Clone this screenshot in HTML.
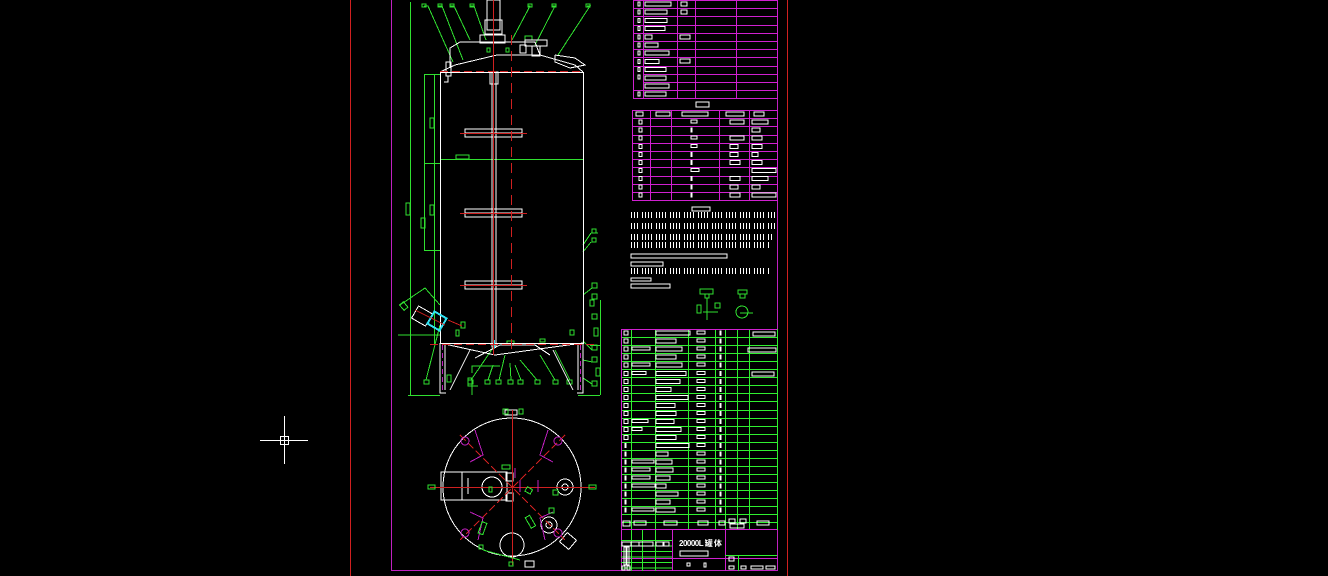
<!DOCTYPE html>
<html><head><meta charset="utf-8"><style>
html,body{margin:0;padding:0;background:#000;width:1328px;height:576px;overflow:hidden}
svg{display:block}
</style></head><body>
<svg id="s" width="1328" height="576" viewBox="0 0 1328 576" xmlns="http://www.w3.org/2000/svg" fill="none" stroke-width="1" shape-rendering="crispEdges">
<!-- frame -->
<line x1="350.5" y1="0" x2="350.5" y2="576" stroke="#d02020"/>
<line x1="787.5" y1="0" x2="787.5" y2="576" stroke="#d02020"/>
<line x1="391.5" y1="0" x2="391.5" y2="571" stroke="#c020c0"/>
<line x1="777.5" y1="0" x2="777.5" y2="571" stroke="#c020c0"/>
<line x1="391" y1="570.5" x2="778" y2="570.5" stroke="#c020c0"/>
<!-- crosshair -->
<g stroke="#fff"><line x1="260" y1="440.5" x2="308" y2="440.5"/><line x1="284.5" y1="416" x2="284.5" y2="464"/><rect x="280.5" y="436.5" width="8" height="8"/></g>

<!-- dimension lines left -->
<g stroke="#30e030">
<line x1="410.5" y1="2" x2="410.5" y2="395"/>
<line x1="408" y1="395.5" x2="440" y2="395.5"/>
<line x1="424.5" y1="74" x2="424.5" y2="250"/>
<line x1="434.5" y1="74" x2="434.5" y2="345"/>
<line x1="424" y1="74.5" x2="440" y2="74.5"/>
<line x1="424" y1="163.5" x2="440" y2="163.5"/>
<line x1="424" y1="250.5" x2="440" y2="250.5"/>
<rect x="406" y="203" width="4" height="12"/><rect x="430" y="118" width="4" height="10"/><rect x="430" y="205" width="4" height="10"/><rect x="421" y="218" width="4" height="10"/>
<line x1="590" y1="345.5" x2="600" y2="345.5"/><line x1="600.5" y1="300" x2="600.5" y2="395"/>
<line x1="578" y1="395.5" x2="600" y2="395.5"/>
<rect x="456" y="155" width="13" height="4"/>
<line x1="440" y1="159.5" x2="583" y2="159.5"/>
<polyline points="424,6 428,6 453,62"/><rect x="422" y="4" width="4" height="3"/>
<polyline points="438,6 442,6 463,60"/><rect x="438" y="4" width="4" height="3"/>
<polyline points="450,6 454,6 470,40"/><rect x="450" y="4" width="4" height="3"/>
<polyline points="470,6 474,6 486,40"/><rect x="470" y="4" width="4" height="3"/>
<polyline points="528,6 530,6 512,40"/><rect x="528" y="4" width="4" height="3"/>
<polyline points="552,6 555,6 535,45"/><rect x="552" y="4" width="4" height="3"/>
<polyline points="587,6 590,6 558,55"/><rect x="586" y="4" width="4" height="3"/>
<rect x="525" y="36" width="7" height="4"/><rect x="487" y="48" width="3" height="4"/><rect x="506" y="48" width="3" height="4"/>
<polyline points="591,233 598,233"/><rect x="592" y="229" width="4" height="4"/><line x1="591" y1="233" x2="583" y2="245"/>
<rect x="592" y="238" width="4" height="4"/><line x1="591" y1="242" x2="583" y2="252"/>
<rect x="592" y="283" width="5" height="5"/><rect x="592" y="294" width="5" height="5"/><line x1="592" y1="288" x2="583" y2="295"/>
<rect x="592" y="314" width="5" height="5"/><rect x="594" y="328" width="4" height="8"/><rect x="590" y="300" width="4" height="6"/>
<rect x="592" y="345" width="5" height="5"/><rect x="592" y="357" width="5" height="5"/><rect x="596" y="368" width="4" height="8"/><rect x="592" y="381" width="5" height="5"/>
<line x1="583" y1="341" x2="592" y2="350"/><line x1="583" y1="360" x2="592" y2="362"/><line x1="583" y1="378" x2="592" y2="384"/>
<rect x="424" y="380" width="5" height="4"/><rect x="447" y="375" width="4" height="7"/><rect x="468" y="380" width="5" height="4"/><rect x="485" y="380" width="5" height="4"/><rect x="496" y="380" width="5" height="4"/><rect x="508" y="380" width="5" height="4"/><rect x="518" y="380" width="5" height="4"/><rect x="535" y="380" width="5" height="4"/><rect x="553" y="380" width="5" height="4"/><rect x="567" y="380" width="5" height="4"/>
<line x1="426" y1="380" x2="440" y2="325"/><line x1="471" y1="380" x2="495" y2="345"/><line x1="488" y1="380" x2="493" y2="365"/><line x1="499" y1="380" x2="505" y2="355"/><line x1="511" y1="380" x2="510" y2="363"/><line x1="521" y1="380" x2="515" y2="365"/><line x1="537" y1="380" x2="520" y2="360"/><line x1="555" y1="380" x2="540" y2="355"/><line x1="570" y1="380" x2="555" y2="350"/>
<polyline points="472,373 472,366 500,366"/><polyline points="472,395 472,386 478,386"/><rect x="468" y="378" width="4" height="8"/>
<rect x="507" y="341" width="7" height="4"/><rect x="540" y="339" width="5" height="3"/><rect x="570" y="330" width="4" height="5"/>
<polyline points="400,305 425,288 440,305"/><polyline points="398,335 440,335"/><rect x="401" y="303" width="5" height="7" transform="rotate(-40 403 306)"/>
<rect x="456" y="330" width="3" height="6"/><rect x="461" y="322" width="4" height="6"/>
</g>

<g stroke="#fff">
<rect x="440.5" y="72.5" width="143" height="271"/>
<polyline points="440,72 455,65 497,55 540,55 575,65 583,72"/>
<polyline points="450,67 450,48 460,42 535,42 540,55"/>
<rect x="487" y="0" width="13" height="30"/>
<rect x="485" y="20" width="17" height="14"/>
<rect x="480" y="35" width="25" height="8"/>
<rect x="525" y="40" width="22" height="6"/><rect x="532" y="46" width="8" height="10"/>
<polyline points="555,55 575,58 585,65 570,68 555,62 555,55"/>
<rect x="446" y="62" width="5" height="14"/><polyline points="448,76 448,82 444,82"/>
<polyline points="440,343 495,355 583,343"/>
<polyline points="440,343 440,393 446,393"/><polyline points="445,343 445,390"/>
<polyline points="583,343 583,393 577,393"/><polyline points="578,343 578,390"/>
<line x1="450" y1="390" x2="470" y2="350"/><line x1="573" y1="390" x2="553" y2="350"/>
<polyline points="475,358 500,345 535,345 550,355"/>
<rect x="492" y="72" width="4" height="275"/>
<rect x="490" y="72" width="8" height="12"/>
<rect x="465" y="129" width="57" height="8"/><line x1="465" y1="133" x2="522" y2="133"/>
<rect x="465" y="209" width="57" height="8"/><line x1="465" y1="213" x2="522" y2="213"/>
<rect x="465" y="281" width="57" height="8"/><line x1="465" y1="285" x2="522" y2="285"/>
<rect x="414" y="309" width="16" height="14" transform="rotate(30 422 316)"/>
<rect x="520" y="45" width="6" height="8"/>
</g>
<g stroke="#30e0f0" stroke-width="2"><rect x="430" y="314" width="14" height="14" transform="rotate(30 437 321)"/><line x1="494" y1="340" x2="494" y2="348"/></g>
<g stroke="#d02020">
<line x1="511.5" y1="35" x2="511.5" y2="350" stroke-dasharray="10,6"/>
<line x1="493.5" y1="0" x2="493.5" y2="355"/>
<line x1="440" y1="71.5" x2="583" y2="71.5" stroke-dasharray="8,4"/>
<line x1="430" y1="344.5" x2="595" y2="344.5" stroke-dasharray="8,4"/>
<line x1="460" y1="133.5" x2="527" y2="133.5"/><line x1="460" y1="213.5" x2="527" y2="213.5"/><line x1="460" y1="285.5" x2="527" y2="285.5"/>
<line x1="448" y1="320" x2="462" y2="326"/><line x1="415" y1="310" x2="445" y2="325"/>
</g>
<g stroke="#c020c0" stroke-dasharray="5,3"><line x1="442.5" y1="345" x2="442.5" y2="390"/><line x1="580.5" y1="345" x2="580.5" y2="390"/></g>

<g stroke="#fff"><circle cx="512" cy="487" r="69"/>
<rect x="441" y="472" width="66" height="28"/><line x1="462" y1="472" x2="462" y2="500"/><line x1="468" y1="478" x2="468" y2="494"/>
<circle cx="492" cy="487" r="10"/><rect x="506" y="473" width="7" height="8"/><rect x="506" y="493" width="7" height="8"/>
<circle cx="565" cy="487" r="8"/><circle cx="565" cy="487" r="3"/><circle cx="549" cy="525" r="8"/><circle cx="549" cy="525" r="3"/>
<circle cx="512" cy="545" r="12"/><rect x="562" y="535" width="12" height="12" transform="rotate(40 568 541)"/>
<rect x="505" y="410" width="12" height="5"/><rect x="525" y="561" width="9" height="6"/>
</g>
<g stroke="#d02020"><line x1="430" y1="487.5" x2="595" y2="487.5"/><line x1="512.5" y1="410" x2="512.5" y2="565"/>
<line x1="460" y1="435" x2="565" y2="540" stroke-dasharray="8,3"/><line x1="565" y1="435" x2="460" y2="540" stroke-dasharray="8,3"/></g>
<g stroke="#c020c0"><circle cx="465" cy="441" r="4"/><circle cx="558" cy="441" r="4"/><circle cx="465" cy="533" r="4"/><circle cx="558" cy="533" r="4"/>
<polyline points="475,430 483,455 470,462"/><polyline points="548,430 540,455 553,462"/><polyline points="470,512 483,518 478,540"/><polyline points="553,512 540,518 545,540"/>
<line x1="515" y1="468" x2="515" y2="478"/><line x1="520" y1="480" x2="520" y2="492"/><line x1="538" y1="480" x2="538" y2="492"/></g>
<g stroke="#30e030"><rect x="428" y="485" width="7" height="4"/><rect x="589" y="485" width="7" height="4"/><rect x="503" y="409" width="5" height="5"/><rect x="519" y="409" width="4" height="5"/>
<rect x="502" y="465" width="8" height="4"/><rect x="489" y="487" width="3" height="5"/><rect x="553" y="490" width="5" height="5"/><rect x="549" y="508" width="5" height="5"/>
<rect x="526" y="488" width="6" height="5" transform="rotate(30 529 490)"/><rect x="480" y="522" width="5" height="12" transform="rotate(20 482 528)"/><rect x="528" y="516" width="5" height="12" transform="rotate(-30 530 522)"/>
<rect x="479" y="545" width="4" height="4"/><rect x="509" y="562" width="4" height="4"/><line x1="483" y1="550" x2="520" y2="560"/></g>

<g stroke="#30e030"><rect x="700" y="289" width="13" height="5"/><rect x="705" y="294" width="4" height="4"/><line x1="707" y1="298" x2="707" y2="320"/><rect x="697" y="305" width="4" height="8"/><rect x="715" y="303" width="5" height="5"/><line x1="703" y1="312" x2="718" y2="312"/>
<rect x="738" y="290" width="9" height="4"/><rect x="740" y="294" width="5" height="4"/><circle cx="742" cy="312" r="6"/><line x1="740" y1="313" x2="753" y2="313"/></g>
</svg>
<script>
var s=document.getElementById('s'),h='';
function L(x1,y1,x2,y2,c){h+='<line x1="'+x1+'" y1="'+y1+'" x2="'+x2+'" y2="'+y2+'" stroke="'+c+'"/>';}
function R(x,y,w,hh,c){h+='<rect x="'+x+'" y="'+y+'" width="'+w+'" height="'+hh+'" stroke="'+(c||'#fff')+'"/>';}
var M='#d020d0',G='#30f030';
var t1=[633.5,643.5,677.5,695.5,736.5,777.5];
t1.forEach(function(x){L(x,0,x,99,M)});
for(var i=0;i<=12;i++){var y=Math.round(i*8.2)+0.5; if(i==9||i==10)L(643,y,777,y,M); else L(633,y,777,y,M);} L(633,98.5,777,98.5,M);
var w1=[26,22,22,20,7,13,24,14,21,21,24,21];
for(i=0;i<12;i++){var y=i*8.2+2;R(645,y,w1[i],4); if(i!=9&&i!=10)R(638,y,2,4);}
R(681,2,6,4);R(681,10,6,4);R(680,35,10,4);R(680,59,10,4);R(638,75,2,4);
R(696,102,13,5);
var t2=[632.5,650.5,671.5,719.5,749.5,777.5];
t2.forEach(function(x){L(x,110,x,201,M)});
for(i=0;i<=11;i++){var y=Math.round(110+i*8.2)+0.5;L(632,y,777,y,M);}
R(636,112,7,4);R(656,112,14,4);R(682,112,26,4);R(726,112,18,4);R(754,112,10,4);
var a=[[6,14,16],[0,0,8],[6,14,10],[6,8,10],[0,8,6],[0,10,10],[8,0,24],[0,10,16],[0,8,8],[0,10,24]];
for(i=0;i<10;i++){var y=120+i*8.1;R(639,y,3,4);if(a[i][0])R(691,y,a[i][0],3);else R(691,y,1,4);if(a[i][1])R(730,y,a[i][1],4);R(752,y,a[i][2],4);}
R(692,207,18,4);
for(var r=0;r<8;r++){var y=[215,226,237,245,255,263,271,285][r];var x0=631,x1=[776,776,774,770,727,663,770,670][r];
 if(r==4||r==5||r==7){R(631,y-1,x1-631,4);continue;}
 for(var x=x0;x<x1;x+=3+(x%7==0?2:0))L(x+0.5,y-3,x+0.5,y+3,'#fff');}
R(631,278,20,3);
var t3=[621.5,631.5,655.5,688.5,715.5,725.5,737.5,749.5,777.5];
t3.forEach(function(x){L(x,329,x,530,G)});
for(i=0;i<=24;i++){var y=Math.round(329+i*8.05)+0.5;L(621,y,777,y,G);}
L(621,529.5,777,529.5,M);L(621,329.5,777,329.5,M);L(621.5,329,621.5,571,M);
var bw=[[0,34],[0,20],[18,26],[0,20],[18,26],[14,30],[0,24],[0,15],[0,32],[0,19],[0,20],[16,18],[10,25],[0,20],[0,33],[0,12],[22,16],[18,17],[18,14],[23,10],[0,22],[0,14],[22,19]];
for(i=0;i<23;i++){var y=331+i*8.05;R(i<14?624:625,y,i<14?4:1,4);if(bw[i][0])R(632,y,bw[i][0],3);R(656,y,bw[i][1],4);R(697,y,8,3);R(720,y,1,4);}
R(753,332,22,4);R(748,348,28,4);R(752,372,22,4);
R(623,521,7,5);R(634,521,12,4);R(664,521,13,4);R(698,521,10,4);R(719,521,6,4);R(729,519,6,4);R(740,519,6,4);R(730,524,14,4);R(757,521,12,4);
L(621,558.5,777,558.5,M);L(672.5,530,672.5,571,M);L(725.5,530,725.5,571,M);L(725,555.5,777,555.5,G);L(738.5,555,738.5,571,G);
for(i=0;i<6;i++)L(621,540+i*5.5+0.5,672,540+i*5.5+0.5,G);
[631.5,642.5,655.5].forEach(function(x){L(x,530,x,571,G)});
R(622,542,9,4);R(631,542,8,4);R(639,542,14,4);R(656,542,7,4);R(664,542,5,4);
R(624,547,2,18);R(627,547,2,18);R(680,551,28,5);R(687,563,3,3);R(704,563,2,4);R(729,566,5,3);R(741,566,5,3);R(751,566,12,3);R(766,566,9,3);R(729,557,5,4);R(622,566,3,4);R(627,566,3,4);
s.insertAdjacentHTML('beforeend',h);
</script>
<div style="position:absolute;left:679px;top:538px;color:#fff;font:bold 8px 'Liberation Sans','Noto Sans CJK SC',sans-serif;letter-spacing:-0.5px">20000L 罐 体</div>
</body></html>
